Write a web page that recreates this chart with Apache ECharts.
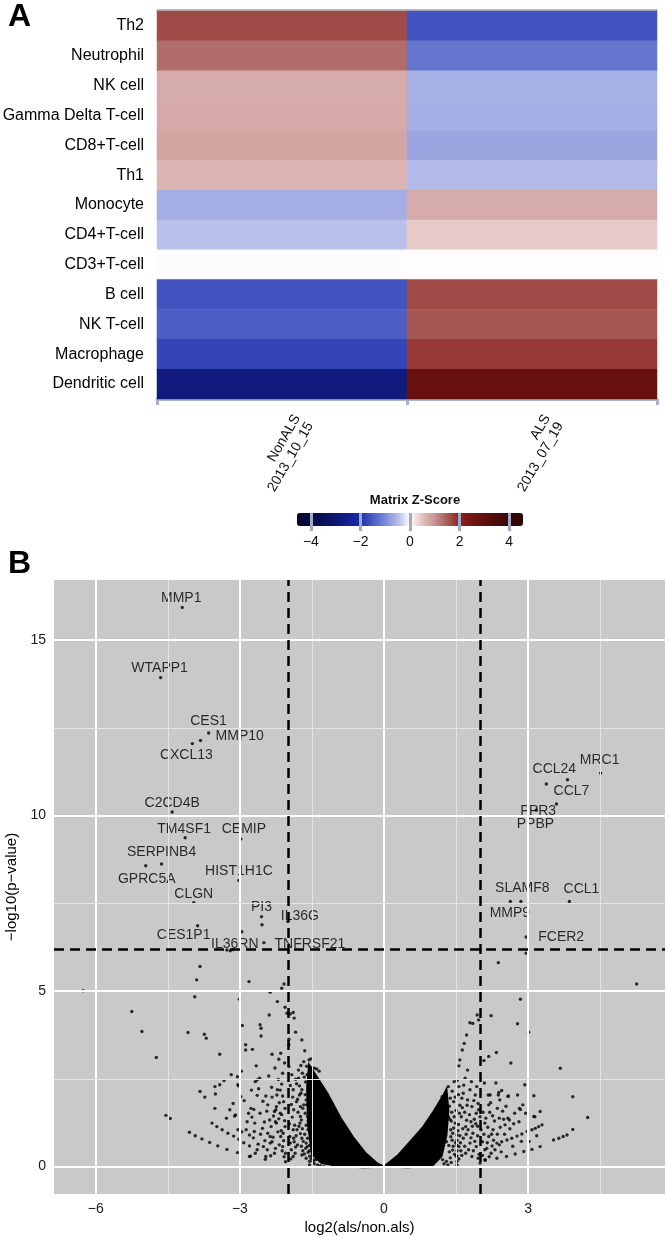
<!DOCTYPE html>
<html><head><meta charset="utf-8">
<script src="https://cdn.jsdelivr.net/npm/echarts@6/dist/echarts.min.js"></script>
<style>html,body{margin:0;padding:0;background:#fff}#c{width:666px;height:1237px}</style>
</head><body><div id="c"></div>
<script>
// ---------------- Panel A data ----------------
const cellTypes = ['Th2','Neutrophil','NK cell','Gamma Delta T-cell','CD8+T-cell','Th1','Monocyte','CD4+T-cell','CD3+T-cell','B cell','NK T-cell','Macrophage','Dendritic cell'];
const sampleLabels = ['NonALS\n2013_10_15', 'ALS\n2013_07_19'];
const zNonALS = [1.65, 1.35, 0.72, 0.74, 0.8, 0.62, -0.62, -0.45, -0.02, -1.6, -1.5, -1.75, -2.8];
const zALS    = [-1.6, -1.22, -0.6, -0.62, -0.7, -0.5, 0.72, 0.42, 0.02, 1.65, 1.55, 1.8, 2.8];
const zScoreTicks = [-4, -2, 0, 2, 4];
const zRange = [-4.56, 4.56];
const zColorStops = ['#06062a','#080a40','#0a1058','#0e1670','#141e8c','#1c2aa8','#4a5cc4','#7a88d6','#b0b9e8','#ffffff','#e2bfbd','#c69290','#a65a56','#8a2020','#741414','#600e0e','#4c0a0a','#3a0606','#2a0404'];

// ---------------- Panel B data ----------------
const volcanoXTicks = [-6, -3, 0, 3];
const volcanoYTicks = [0, 5, 10, 15];
const xMajorGrid = [-6, -3, 0, 3];
const xMinorGrid = [-4.5, -1.5, 1.5, 4.5];
const yMajorGrid = [0, 5, 10, 15];
const yMinorGrid = [2.5, 7.5, 12.5];
const foldChangeCutoffs = [-2, 2];
const pValueCutoff = 6.2;
const xRange = [-6.87, 5.85];
const yRange = [-0.78, 16.71];

const geneNames = ['MMP1','WTAPP1','CES1','MMP10','CXCL13','C2CD4B','TM4SF1','CEMIP','SERPINB4','GPRC5A','HIST1H1C','CLGN','PI3','IL36G','CES1P1','IL36RN','TNFRSF21','MRC1','CCL24','CCL7','FPR3','PPBP','SLAMF8','MMP9','CCL1','FCER2'];
const geneLog2FC = [-4.20,-4.65,-3.82,-3.65,-3.99,-4.41,-4.14,-2.98,-4.63,-4.96,-3.02,-3.96,-2.55,-2.00,-3.88,-2.96,-2.50,4.51,3.38,3.82,3.17,3.59,2.63,2.85,3.86,2.96];
const geneNegLog10P = [15.93,13.93,12.14,12.35,12.05,10.10,9.37,9.33,8.62,8.57,8.15,7.52,7.12,6.98,6.86,6.69,6.38,11.21,10.90,11.02,10.15,10.33,7.55,7.55,7.55,6.54];

const otherGenes = [
 [-6.26,5.01],[-3.83,5.70],[-3.90,5.32],[-2.81,5.27],[-2.37,4.97],[-2.13,5.08],[-2.08,5.20],[2.38,5.81],[5.26,5.20],[-3.94,4.84],[-3.01,4.77],[2.84,4.77],[2.96,6.08],[-2.54,6.89],[-3.27,6.17],[-3.20,6.15],[-3.14,6.18],
 [-5.25,4.42],[-5.04,3.85],[-4.74,3.11],[-4.54,1.46],[-4.45,1.37],[-4.08,3.82],[-3.83,2.14],[-3.74,3.77],[-3.70,3.66],[-3.73,1.98],[-3.52,1.66],[-3.52,2.28],[-3.42,3.20],[-3.42,2.33],[-3.33,2.45],[-3.51,2.07],
 [-4.05,0.98],[-3.93,0.88],[-3.79,0.79],[-3.63,0.69],[-3.46,0.59],[-3.27,0.49],[-3.05,0.40],[-2.78,0.30],[-2.47,0.21],
 [-3.58,1.24],[-3.48,1.14],[-3.37,1.05],[-3.25,0.95],[-3.13,0.87],[-3.02,0.78],[-2.92,0.68],[-2.80,0.59],[-2.64,0.48],
 [-3.14,1.80],[-3.11,1.44],[-3.05,2.56],[-3.03,2.30],[-2.98,1.99],[-2.95,4.02],[-2.88,3.47],[-2.88,3.32],[-2.74,3.34],[-2.77,1.66],[-2.66,2.87],[-2.64,2.47],[-2.59,2.52],[-2.61,2.22],[-2.58,4.04],[-2.56,3.94],[-2.56,3.72],[-2.39,4.32],[-2.33,3.20],[-2.22,4.70],[-2.19,3.06],[-2.15,3.23],[-2.06,4.54],[-2.02,4.37],[-1.95,4.35],[-1.89,4.39],[-1.87,4.23],[-1.84,3.83],[-1.71,3.61],[-1.65,3.30],[-1.56,3.04],[-1.52,3.07],[-1.98,3.63],[-1.98,3.47],[-1.98,2.85],
 [-3.09,1.47],[-3.04,2.33],[-2.82,1.52],[-2.75,1.41],[-2.71,1.63],[-2.68,2.42],[-3.04,1.05],[-2.96,0.99],[-2.87,1.05],[-2.80,0.90],
 [-2.46,2.01],[-2.42,1.76],[-2.33,1.98],[-2.28,1.57],[-2.22,2.19],[-2.18,1.82],[-2.13,2.35],[-2.11,2.01],[-2.06,1.66],[-1.89,2.19],[-1.84,2.49],[-1.82,1.85],[-1.78,2.75],[-1.76,2.30],[-1.73,2.09],[-1.69,1.66],[-1.66,2.55],[-1.62,1.90],[-1.59,1.43],[-1.55,2.19],[-1.75,1.24],[-1.89,1.05],[-2.06,1.14],[-2.24,1.24],[-2.42,0.95],[-2.33,0.71],[-2.15,0.86],[-2.53,1.09],[-2.70,1.00],[-2.51,0.57],[-2.68,0.38],[-2.80,0.29],[-2.46,0.29],[-2.28,0.38],[-2.11,0.57],[-1.93,0.48],[-1.80,0.62],[-1.71,0.81],[-1.62,0.67],[-1.53,0.95],[-1.89,0.29],[-1.71,0.33],[-1.62,0.24],
 [-2.43,0.48],[-2.37,0.67],[-2.37,0.86],[-2.35,1.14],[-2.26,1.28],[-2.24,1.71],[-2.23,2.04],[-2.16,1.52],[-2.10,0.95],[-2.05,0.38],[-2.05,0.14],[-1.95,0.67],[-1.88,0.81],[-1.81,1.05],[-1.74,1.43],[-1.67,1.76],[-1.71,2.19],[-1.60,0.57],[-1.53,0.76],[-1.50,0.29],[-1.46,0.19],[-1.43,1.23],[-1.39,1.57],[-1.32,1.90],[-1.29,2.28],
 [-1.55,2.82],[-1.50,2.82],[-1.45,2.80],[-1.40,2.78],[-1.35,2.72],[-1.55,0.60],[-1.55,0.45],[-1.55,0.30],[-1.55,0.15],[-1.55,0.05],
 [-1.60,2.62],[-1.63,2.41],[-1.58,2.31],[-1.64,2.05],[-1.57,1.98],[-1.61,1.76],[-1.57,1.62],[-1.64,1.52],[-1.58,1.31],[-1.62,1.18],[-1.58,1.05],[-1.65,0.92],[-1.59,0.81],[-1.63,0.52],[-1.58,0.41],[-1.66,0.36],[-1.69,0.45],[-1.72,0.58],[-1.68,0.72],[-1.74,0.94],[-1.70,1.08],[-1.77,1.15],[-1.72,1.33],[-1.79,1.55],[-1.74,1.71],[-1.80,1.92],[-1.76,2.04],[-1.82,2.36],[-1.78,2.52],[-1.70,2.66],[-1.73,2.88],[-1.67,2.99],[-1.61,2.86],
 [-1.85,0.38],[-1.84,0.56],[-1.87,0.71],[-1.83,0.88],[-1.86,1.18],[-1.91,1.41],[-1.88,1.62],[-1.93,1.77],[-1.90,1.98],[-1.95,2.31],[-1.92,2.62],[-1.96,0.86],[-1.97,1.22],[-1.94,0.22],
 [-2.08,0.28],[-2.12,0.45],[-2.09,0.74],[-2.14,1.02],[-2.07,1.31],[-2.13,1.48],[-2.09,1.85],[-2.16,2.18],[-2.11,2.66],[-2.07,2.95],[-2.18,0.62],[-2.21,0.99],[-2.19,1.36],[-2.25,1.62],[-2.20,2.48],[-2.27,2.81],[-2.26,0.52],[-2.31,0.84],[-2.30,1.44],[-2.34,2.26],[-2.38,1.33],[-2.40,2.58],[-2.36,0.31],[-2.44,1.58],[-2.48,0.74],[-2.49,1.27],[-2.52,1.86],[-2.57,0.92],[-2.58,1.52],[-2.62,0.64],[-2.64,2.03],[-2.69,1.24],[-2.72,0.82],[-2.76,2.18],[-2.85,1.28],[-2.91,1.88],[-2.97,2.72],[-3.18,2.62],[-3.28,1.38],[-3.21,1.62],
 [-1.45,0.08],[-1.38,0.05],[-1.32,0.02],[-1.25,0.00],[-1.48,0.15],[-1.42,0.20],[-1.52,0.22],
 [2.78,4.07],[3.01,3.83],[3.67,2.80],[3.93,1.99],[4.24,1.40],[2.23,4.30],[2.08,3.02],[2.18,3.14],[2.34,3.25],[1.79,4.10],[1.85,4.08],[1.97,4.18],[1.94,4.32],[1.72,3.75],[1.67,3.51],[1.63,3.32],[1.58,3.04],[1.56,2.87],[1.74,2.75],[1.52,2.45],[1.46,2.42],[1.34,2.28],[2.64,2.95],[2.93,2.33],[2.78,2.04],[2.82,1.66],[2.89,1.76],[2.45,2.17],[2.38,2.04],[2.58,2.00],[2.17,2.04],[2.18,1.76],[2.36,1.66],[2.40,1.38],[2.58,1.38],[2.70,1.22],[2.52,1.19],[3.25,1.57],[3.14,1.42],
 [2.59,2.01],[2.39,2.11],[2.21,2.04],[2.41,1.90],[2.84,1.63],[3.12,1.43],[2.49,1.35],[2.61,1.33],
 [2.11,0.19],[2.35,0.24],[2.55,0.29],[2.73,0.36],[2.91,0.43],[3.08,0.49],[3.25,0.57],[3.53,0.76],[3.64,0.81],[3.73,0.86],[3.81,0.90],[3.93,1.06],
 [2.14,0.52],[2.25,0.59],[2.35,0.67],[2.45,0.71],[2.56,0.76],[2.66,0.81],[2.77,0.87],[2.87,0.93],[2.98,1.00],[3.08,1.05],[3.15,1.09],[3.22,1.14],[3.29,1.19],
 [1.56,2.28],[1.65,2.09],[1.74,1.90],[1.83,1.71],[1.92,1.52],[1.79,2.19],[1.90,2.04],[1.96,1.80],[2.00,1.42],[2.10,1.24],[1.81,1.28],[1.70,1.14],[1.61,1.42],[1.48,1.24],[1.39,1.05],[1.52,0.90],[1.65,0.81],[1.79,0.67],[1.92,0.57],[2.05,0.71],[2.18,0.86],[2.27,1.05],[2.10,0.48],[2.23,0.38],[2.40,0.62],[1.56,0.57],[1.43,0.47],[1.70,0.38],[1.83,0.29],[1.96,0.24],[1.21,1.99],[1.25,1.71],[1.34,1.42],[1.12,1.42],[1.03,1.24],[1.30,0.71],[1.17,0.52],[2.10,0.19],[2.00,0.10],
 [1.45,1.85],[1.50,1.60],[1.58,1.75],[1.62,1.95],[1.40,1.30],[1.45,1.10],[1.55,1.20],[1.68,1.55],[1.75,1.05],[1.85,0.95],[1.95,1.15],[1.50,0.30],[1.60,0.45],[1.38,0.25],[1.35,0.60],[1.42,0.75],[1.28,1.20],[1.30,1.50],[1.88,1.35],[2.02,1.05],[1.98,0.35],[2.20,1.55],[2.30,1.30],[2.28,0.75],
 [1.52,0.75],[1.52,0.60],[1.52,0.45],[1.52,0.30],[1.52,0.15],[1.52,0.05],
 [1.38,1.95],[1.42,2.15],[1.36,1.72],[1.41,1.55],[1.37,1.35],[1.43,0.95],[1.39,0.85],[1.44,0.58],[1.36,0.42],[1.40,0.12],[1.47,0.35],[1.49,0.68],[1.46,1.42],[1.48,1.98],[1.55,2.05],[1.57,1.52],[1.54,1.02],[1.58,0.88],[1.59,0.68],[1.56,0.22],[1.62,0.32],[1.64,1.08],[1.63,1.68],[1.66,2.32],[1.68,0.58],[1.71,0.92],[1.72,1.32],[1.73,1.75],[1.69,2.52],[1.76,0.48],[1.78,1.48],[1.81,0.82],[1.82,2.42],[1.84,1.15],[1.86,0.45],[1.87,1.88],[1.89,0.72],[1.91,1.22],[1.93,2.28],[1.95,0.88],[1.97,1.62],[2.05,0.32],[2.06,1.55],[2.08,0.92],[2.09,2.38],[2.12,1.38],[2.15,0.68],[2.16,1.12],[2.19,0.28],[2.22,1.82],[2.24,0.92],[2.26,1.45],[2.31,0.48],[2.33,2.38],[2.36,0.92],[2.42,1.12],[2.44,0.42],[2.47,1.58],[2.51,0.92],[2.54,1.72],[2.62,1.08],[2.68,0.58],[2.72,1.52],[2.81,1.28],[2.86,0.72],[2.95,1.52],[3.02,0.72],[3.18,0.88],[3.12,2.02],
 [1.25,0.08],[1.30,0.15],[1.33,0.05],[1.22,0.20]
];
// outlines of the two saturated (overplotted) clouds of low-fold-change genes
const denseCloudLeft = [[-1.56,2.9],[-1.18,2.09],[-0.91,1.4],[-0.65,0.85],[-0.38,0.38],[-0.15,0.1],[0,0],[-0.4,-0.02],[-0.9,0],[-1.3,0.1],[-1.5,0.35],[-1.58,1.2],[-1.6,2.2]];
const denseCloudRight = [[0,0],[0.3,0.33],[0.55,0.72],[0.82,1.14],[1.03,1.57],[1.24,2.04],[1.3,2.2],[1.34,1.6],[1.3,0.9],[1.2,0.3],[1.0,0.02],[0.5,-0.02]];

// ---------------- styling (not data) ----------------
const FONT = '"Liberation Sans", Arial, Helvetica, sans-serif';
const labelOffsets = {MMP1:[-1,-9],WTAPP1:[-1,-9],CES1:[8,-19],MMP10:[31,3],CXCL13:[-6,12],C2CD4B:[0,-9],TM4SF1:[-1,-9],CEMIP:[3,-10],SERPINB4:[0,-12],GPRC5A:[1,13],HIST1H1C:[0,-9],CLGN:[0,-8],PI3:[0,-10],IL36G:[12,-5],CES1P1:[-14,9],IL36RN:[-7,12],TNFRSF21:[46,1],MRC1:[-1,-13],CCL24:[8,-15],CCL7:[4,11],FPR3:[2,1],PPBP:[-21,20],SLAMF8:[12,-13],MMP9:[-11,12],CCL1:[12,-12],FCER2:[35,0]};
const minus = v => String(v).replace('-', '\u2212');

const heatData = [];
cellTypes.forEach((c, i) => { heatData.push([0, i, zNonALS[i]]); heatData.push([1, i, zALS[i]]); });

const gridMarks = [];
xMajorGrid.forEach(v => gridMarks.push({xAxis: v, lineStyle: {color: '#ffffff', width: 2, type: 'solid'}}));
xMinorGrid.forEach(v => gridMarks.push({xAxis: v, lineStyle: {color: '#e4e4e4', width: 1, type: 'solid'}}));
yMajorGrid.forEach(v => gridMarks.push({yAxis: v, lineStyle: {color: '#ffffff', width: 2, type: 'solid'}}));
yMinorGrid.forEach(v => gridMarks.push({yAxis: v, lineStyle: {color: '#e4e4e4', width: 1, type: 'solid'}}));

const cutMarks = foldChangeCutoffs.map(v => ({xAxis: v})).concat([{yAxis: pValueCutoff}]);

const geneData = geneNames.map((g, i) => ({
  name: g, value: [geneLog2FC[i], geneNegLog10P[i]],
  label: {offset: labelOffsets[g]}
}));

const clouds = [denseCloudLeft, denseCloudRight];

const chart = echarts.init(document.getElementById('c'), null, {renderer: 'canvas'});
chart.setOption({
  animation: false,
  backgroundColor: '#ffffff',
  textStyle: {fontFamily: FONT},
  title: [
    {text: 'A', left: 3, top: -4, textStyle: {fontSize: 32, fontWeight: 'bold', color: '#000', fontFamily: FONT}},
    {text: 'B', left: 3, top: 543, textStyle: {fontSize: 32, fontWeight: 'bold', color: '#000', fontFamily: FONT}},
    {text: 'Matrix Z-Score', left: 410, top: 489, textAlign: 'center', textStyle: {fontSize: 13, fontWeight: 'bold', color: '#111', fontFamily: FONT}}
  ],
  grid: [
    {left: 157, top: 11, width: 500, height: 388, outerBoundsMode: 'none', containLabel: false},
    {left: 297, top: 513, width: 226, height: 18, outerBoundsMode: 'none', containLabel: false},
    {left: 54, top: 580, width: 611, height: 614, show: true, backgroundColor: '#c9c9c9', borderWidth: 0, outerBoundsMode: 'none', containLabel: false}
  ],
  xAxis: [
    {type: 'category', gridIndex: 0, data: sampleLabels, position: 'bottom',
     axisLine: {show: true, lineStyle: {color: '#a7b3cb', width: 3}},
     axisTick: {show: true, length: 6, lineStyle: {color: '#a7b3cb', width: 3}},
     axisLabel: {interval: 0, rotate: 60, fontSize: 14, color: '#111', align: 'right', verticalAlign: 'top', padding: [10, 0, 0, 0], lineHeight: 15, margin: 8, fontFamily: FONT},
     splitLine: {show: false}},
    {type: 'category', gridIndex: 0, data: sampleLabels, position: 'top', offset: 1,
     axisLine: {show: true, lineStyle: {color: '#bdbdbd', width: 2}}, axisTick: {show: false}, axisLabel: {show: false}},
    {type: 'value', gridIndex: 1, min: zRange[0], max: zRange[1], position: 'bottom', z: 10,
     axisLine: {show: false}, splitLine: {show: false},
     axisTick: {show: true, inside: true, length: 18, customValues: zScoreTicks, lineStyle: {color: '#9eabc4', width: 3}},
     axisLabel: {customValues: zScoreTicks, formatter: minus, fontSize: 14, color: '#111', margin: 4, fontFamily: FONT}},
    {type: 'value', gridIndex: 2, min: xRange[0], max: xRange[1],
     axisLine: {show: false}, splitLine: {show: false},
     axisTick: {show: true, length: 4, customValues: volcanoXTicks, lineStyle: {color: '#333', width: 1.5}},
     axisLabel: {customValues: volcanoXTicks, formatter: minus, fontSize: 14, color: '#1a1a1a', margin: 8, fontFamily: FONT},
     name: 'log2(als/non.als)', nameLocation: 'middle', nameGap: 26, nameTextStyle: {fontSize: 15, color: '#000', fontFamily: FONT}}
  ],
  yAxis: [
    {type: 'category', gridIndex: 0, data: cellTypes, inverse: true,
     axisLine: {show: false}, axisTick: {show: false},
     axisLabel: {fontSize: 16, color: '#000', margin: 13, fontFamily: FONT}},
    {type: 'value', gridIndex: 1, show: false, min: 0, max: 1},
    {type: 'value', gridIndex: 2, min: yRange[0], max: yRange[1],
     axisLine: {show: false}, splitLine: {show: false},
     axisTick: {show: true, length: 4, customValues: volcanoYTicks, lineStyle: {color: '#333', width: 1.5}},
     axisLabel: {customValues: volcanoYTicks, fontSize: 14, color: '#1a1a1a', margin: 8, fontFamily: FONT},
     name: '\u2212log10(p\u2212value)', nameLocation: 'middle', nameGap: 34, nameTextStyle: {fontSize: 15, color: '#000', fontFamily: FONT}}
  ],
  visualMap: [{
    type: 'continuous', seriesIndex: 0, min: zRange[0], max: zRange[1],
    orient: 'horizontal', left: 297, top: 513, itemWidth: 13, itemHeight: 226,
    calculable: false, realtime: false, padding: 0, text: null, showLabel: false, hoverLink: false,
    inRange: {color: zColorStops}
  }],
  series: [
    {type: 'heatmap', xAxisIndex: 0, yAxisIndex: 0, data: heatData, itemStyle: {borderWidth: 0}, emphasis: {disabled: true}},
    {type: 'scatter', xAxisIndex: 3, yAxisIndex: 2, data: [], z: 1, silent: true,
     markLine: {silent: true, symbol: 'none', label: {show: false}, animation: false, data: gridMarks}},
    {type: 'custom', xAxisIndex: 3, yAxisIndex: 2, z: 3, silent: true, data: [[0, 0], [0, 0]],
     renderItem: (params, api) => ({
       type: 'polygon',
       shape: {points: clouds[params.dataIndex].map(p => api.coord(p))},
       style: {fill: '#000', stroke: '#000', lineWidth: 2}
     })},
    {type: 'scatter', xAxisIndex: 3, yAxisIndex: 2, z: 4, data: otherGenes, symbolSize: 3.4, itemStyle: {color: '#000'}, silent: true},
    {type: 'scatter', xAxisIndex: 3, yAxisIndex: 2, z: 4, data: geneData, symbolSize: 3.4, itemStyle: {color: '#000'}, silent: true,
     label: {show: true, position: 'inside', formatter: '{b}', fontSize: 14, color: '#000', fontFamily: FONT}},
    {type: 'scatter', xAxisIndex: 3, yAxisIndex: 2, data: [], z: 6, silent: true,
     markLine: {silent: true, symbol: 'none', label: {show: false}, animation: false,
       lineStyle: {color: '#000', width: 2.5, type: [10, 6]}, data: cutMarks}}
  ]
});
</script></body></html>
